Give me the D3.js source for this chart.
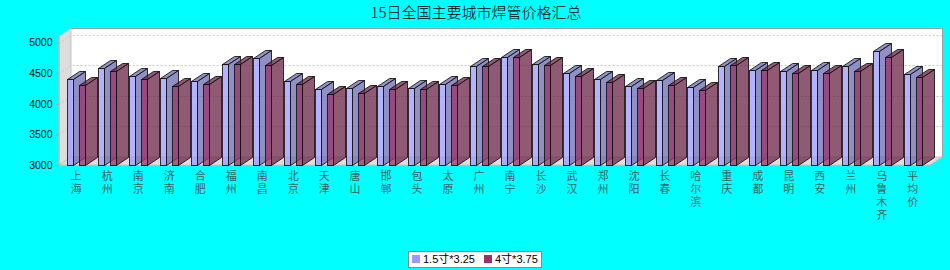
<!DOCTYPE html>
<html>
<head>
<meta charset="utf-8">
<script src="https://cdn.jsdelivr.net/npm/d3@7"></script>
<style>
  body { margin: 0; background: #00ffff; }
  svg { display: block; }
</style>
</head>
<body>
<svg id="chart"></svg>
<script>
// Chart data
const title = "15日全国主要城市焊管价格汇总";
const cities = ["上海", "杭州", "南京", "济南", "合肥", "福州", "南昌", "北京", "天津", "唐山",
  "邯郸", "包头", "太原", "广州", "南宁", "长沙", "武汉", "郑州", "沈阳", "长春",
  "哈尔滨", "重庆", "成都", "昆明", "西安", "兰州", "乌鲁木齐", "平均价"];
const seriesNames = ["1.5寸*3.25", "4寸*3.75"];
const pipeSmall = [4400, 4580, 4450, 4420, 4370, 4650, 4750, 4370, 4240, 4260,
  4290, 4260, 4320, 4610, 4760, 4650, 4500, 4400, 4290, 4390,
  4270, 4610, 4550, 4530, 4550, 4610, 4860, 4480];
const pipeLarge = [4300, 4530, 4400, 4290, 4320, 4650, 4630, 4320, 4160, 4170,
  4240, 4240, 4300, 4610, 4760, 4630, 4450, 4350, 4260, 4300,
  4230, 4630, 4560, 4510, 4500, 4530, 4760, 4430];
const yTicks = [3000, 3500, 4000, 4500, 5000];

class BarChart3D {
  constructor(_config) {
    this.config = {
      parentElement: _config.parentElement,
      containerWidth: 950,
      containerHeight: 270,
      left: 59,
      right: 930,
      top: 36.5,
      bottom: 165,
      depthX: 12,
      depthY: 8,
      colors: ["#9999ff", "#993366"],
      sideColors: ["#6b6bb2", "#6b2347"],
      alpha: 0.75
    };
    this.initVis();
  }

  initVis() {
    const vis = this;
    const c = vis.config;

    vis.svg = d3.select(c.parentElement)
      .attr("width", c.containerWidth)
      .attr("height", c.containerHeight);

    vis.svg.append("rect")
      .attr("width", c.containerWidth)
      .attr("height", c.containerHeight)
      .attr("fill", "#00ffff");

    // scales
    vis.xScale = d3.scaleBand()
      .domain(cities)
      .range([c.left, c.right])
      .paddingInner(0.42)
      .paddingOuter(0.27);
    vis.xSub = d3.scaleBand()
      .domain(seriesNames)
      .range([0, vis.xScale.bandwidth()])
      .paddingInner(0.5);
    vis.yScale = d3.scaleLinear()
      .domain([3000, 5100])
      .range([c.bottom, c.top]);

    vis.renderWalls();
    vis.renderBars();
    vis.renderAxes();
    vis.renderLegend();
  }

  renderWalls() {
    const vis = this;
    const c = vis.config;
    const dx = c.depthX, dy = c.depthY;

    // back wall
    vis.svg.append("rect")
      .attr("x", c.left + dx)
      .attr("y", c.top - dy)
      .attr("width", c.right - c.left)
      .attr("height", c.bottom - c.top)
      .attr("fill", "#ffffff");

    // left wall
    vis.svg.append("polygon")
      .attr("points", [[c.left, c.top], [c.left + dx, c.top - dy],
        [c.left + dx, c.bottom - dy], [c.left, c.bottom]].join(" "))
      .attr("fill", "#dddddd")
      .attr("stroke", "#c4c4c4");

    // floor
    vis.svg.append("polygon")
      .attr("points", [[c.left, c.bottom], [c.left + dx, c.bottom - dy],
        [c.right + dx, c.bottom - dy], [c.right, c.bottom]].join(" "))
      .attr("fill", "#dddddd")
      .attr("stroke", "#c4c4c4");

    // grid lines on the walls
    vis.svg.append("g")
      .selectAll("polyline")
      .data(yTicks.filter(d => d > 3000))
      .join("polyline")
      .attr("points", d => {
        const y = Math.round(vis.yScale(d)) + 0.5;
        return [[c.left, y], [c.left + dx, y - dy], [c.right + dx, y - dy]].join(" ");
      })
      .attr("fill", "none")
      .attr("stroke", "#c8c8c8")
      .attr("stroke-dasharray", "2,2");

    // outline of the back wall
    vis.svg.append("polyline")
      .attr("points", [[c.left + dx, c.top - dy], [c.right + dx + 0.5, c.top - dy],
        [c.right + dx + 0.5, c.bottom - dy]].join(" "))
      .attr("fill", "none")
      .attr("stroke", "#a0a0a0");
  }

  renderBars() {
    const vis = this;
    const c = vis.config;
    const dx = c.depthX, dy = c.depthY;
    const seriesValues = [pipeSmall, pipeLarge];

    const items = [];
    cities.forEach((city, i) => {
      seriesNames.forEach((s, j) => {
        items.push({ city: city, series: s, idx: j, value: seriesValues[j][i] });
      });
    });

    const w = Math.round(vis.xSub.bandwidth());
    const bars = vis.svg.append("g")
      .selectAll("g")
      .data(items)
      .join("g")
      .attr("fill-opacity", c.alpha);

    const geom = d => {
      const x = Math.round(vis.xScale(d.city) + vis.xSub(d.series)) + 0.5;
      const y = Math.round(vis.yScale(d.value)) + 0.5;
      return { x: x, y: y, b: c.bottom + 0.5 };
    };

    // front face
    bars.append("rect")
      .attr("x", d => geom(d).x)
      .attr("y", d => geom(d).y)
      .attr("width", w)
      .attr("height", d => geom(d).b - geom(d).y)
      .attr("fill", d => c.colors[d.idx])
      .attr("stroke", "#111")
      .attr("stroke-opacity", 0.85);

    // top face
    bars.append("polygon")
      .attr("points", d => {
        const g = geom(d);
        return [[g.x, g.y], [g.x + dx, g.y - dy], [g.x + w + dx, g.y - dy], [g.x + w, g.y]].join(" ");
      })
      .attr("fill", d => c.sideColors[d.idx])
      .attr("stroke", "#111")
      .attr("stroke-opacity", 0.85);

    // side face
    bars.append("polygon")
      .attr("points", d => {
        const g = geom(d);
        return [[g.x + w, g.y], [g.x + w + dx, g.y - dy], [g.x + w + dx, g.b - dy], [g.x + w, g.b]].join(" ");
      })
      .attr("fill", d => c.sideColors[d.idx])
      .attr("stroke", "#111")
      .attr("stroke-opacity", 0.85);
  }

  renderAxes() {
    const vis = this;
    const c = vis.config;

    // title
    vis.svg.append("text")
      .attr("x", 476)
      .attr("y", 18)
      .attr("text-anchor", "middle")
      .style("font-family", "'Noto Sans CJK SC', sans-serif")
      .style("font-size", "15px")
      .style("font-weight", 300)
      .attr("fill", "#000")
      .text(title);

    // value axis
    const yAxis = d3.axisLeft(vis.yScale)
      .tickValues(yTicks)
      .tickSize(3)
      .tickPadding(3)
      .tickFormat(d3.format("d"));
    const yg = vis.svg.append("g")
      .attr("transform", `translate(${c.left - 0.5},0)`)
      .call(yAxis);
    yg.select(".domain").attr("stroke", "#b0b0b0");
    yg.selectAll(".tick line").attr("stroke", "#b0a0a0");
    yg.selectAll(".tick text")
      .style("font-family", "'Liberation Sans', Arial, sans-serif")
      .style("font-size", "10.5px")
      .attr("fill", "#000");

    // category labels, written top to bottom
    vis.svg.append("g")
      .selectAll("text")
      .data(cities)
      .join("text")
      .attr("x", d => vis.xScale(d) + vis.xScale.bandwidth() / 2)
      .attr("y", 170)
      .style("writing-mode", "vertical-rl")
      .style("text-orientation", "upright")
      .style("letter-spacing", "2px")
      .style("font-family", "'Noto Sans CJK SC', sans-serif")
      .style("font-size", "11px")
      .attr("fill", "#3f5f5f")
      .text(d => d);
  }

  renderLegend() {
    const vis = this;
    const c = vis.config;
    const legend = vis.svg.append("g");

    legend.append("rect")
      .attr("x", 408.5)
      .attr("y", 251.5)
      .attr("width", 133)
      .attr("height", 16)
      .attr("fill", "#ffffff")
      .attr("stroke", "#888");

    const offsets = [412, 484];
    const entries = legend.selectAll("g")
      .data(seriesNames)
      .join("g")
      .attr("transform", (d, i) => `translate(${offsets[i]},0)`);
    entries.append("rect")
      .attr("x", 0)
      .attr("y", 255)
      .attr("width", 8)
      .attr("height", 8)
      .attr("fill", (d, i) => c.colors[i]);
    entries.append("text")
      .attr("x", 11)
      .attr("y", 263)
      .style("font-family", "'Liberation Sans', Arial, 'Noto Sans CJK SC', sans-serif")
      .style("font-size", "11px")
      .attr("fill", "#000")
      .text(d => d);
  }
}

new BarChart3D({ parentElement: "#chart" });
</script>
</body>
</html>
